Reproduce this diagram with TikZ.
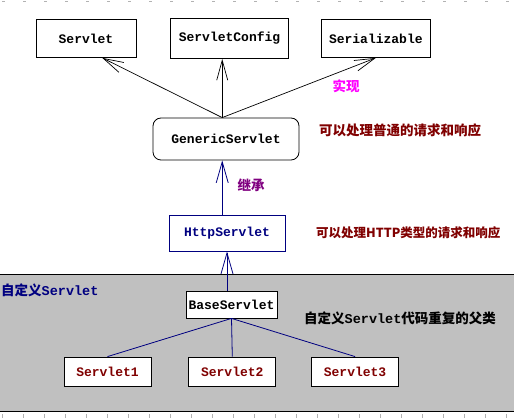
\documentclass[tikz,border=0pt]{standalone}
\usepackage{fontspec}
\setmonofont{Liberation Mono}
\newfontfamily\cjk{Noto Sans CJK SC}
\usetikzlibrary{positioning,arrows.meta}
\usepackage{xcolor}
\definecolor{navyblue}{HTML}{000080}
\definecolor{darkred}{HTML}{800000}
\definecolor{implpink}{HTML}{FF00FF}
\definecolor{inhpurple}{HTML}{800080}
\definecolor{bandgray}{HTML}{C0C0C0}

\begin{document}
\begin{tikzpicture}[x=1pt, y=-1pt, node distance=1cm and 33pt,
    every node/.style={font=\ttfamily\bfseries\fontsize{13}{15}\selectfont},
    box/.style={draw, fill=white, line width=0.8pt, minimum height=38pt, inner xsep=8pt},
    subbox/.style={draw, fill=white, line width=0.8pt, minimum width=87pt, minimum height=29pt, text=darkred},
    note/.style={font=\cjk\bfseries\fontsize{13.5}{15}\selectfont, inner sep=0pt},
    imp/.style={-{Straight Barb[length=20pt,width=11pt]}, line width=0.7pt},
    inh/.style={-{Straight Barb[length=21pt,width=12pt]}, line width=0.8pt, draw=navyblue}]
    \useasboundingbox (0,0) rectangle (514,419);
    % band of own servlets
    \fill[bandgray] (0,274) rectangle (514,411);
    \draw[line width=0.8pt] (0,274) -- (514,274);
    \draw[line width=0.8pt] (0,411) -- (514,411);
    \foreach \x in {2,23,...,506} {
      \draw[gray!60] (\x,414) -- (\x,418);
      \draw[gray!60] (\x,1) -- ({\x+3},1);
    }
    % interfaces
    \node[box, minimum width=100pt] (servlet) at (86,38.5) {Servlet};
    \node[box, minimum height=40pt] (config) [right=34pt of servlet] {ServletConfig};
    \node[box] (serial) [right=32pt of config] {Serializable};
    \node[draw, line width=0.8pt, rounded corners=8pt, minimum width=146pt, minimum height=42pt] (generic) at (226,139) {GenericServlet};
    \node[draw=navyblue, line width=0.8pt, text=navyblue, minimum width=116pt, minimum height=36pt] (http) at (227,233) {HttpServlet};
    % own classes
    \node[draw, fill=white, line width=0.8pt, minimum width=91pt, minimum height=27pt, inner xsep=2pt] (base) at (231.5,304.5) {BaseServlet};
    \node[subbox] (s1) at (107.5,371.5) {Servlet1};
    \node[subbox] (s2) [right=37pt of s1] {Servlet2};
    \node[subbox] (s3) [right=35pt of s2] {Servlet3};
    % notes
    \node[note, text=implpink] (lblimpl) at (346,86) {实现};
    \node[note, text=inhpurple] (lblinh) at (251,185) {继承};
    \node[note, text=darkred, anchor=west] (lblgen) at (319,130) {可以处理普通的请求和响应};
    \node[note, text=darkred, anchor=west, font=\cjk\bfseries\fontsize{12.5}{15}\selectfont] (lblhttp) at (316,233) {可以处理HTTP类型的请求和响应};
    \node[note, text=navyblue, anchor=west] (lblcustom) at (1,290) {自定义{\ttfamily Servlet}};
    \node[note, anchor=west] (lblbase) at (304,318) {自定义{\ttfamily Servlet}代码重复的父类};
    % connectors
    \draw[imp] (generic.100) -- (servlet.310);
    \draw[imp] (generic.100) -- (config.south -| generic.100);
    \draw[imp] (generic.100) -- (serial.south);
    \draw[inh] (http.north -| generic.100) -- (generic.south -| generic.100);
    \draw[inh] (base.north -| http.south) -- (http.south);
    \draw[navyblue, line width=0.8pt] (base.south) -- (s1.north);
    \draw[navyblue, line width=0.8pt] (base.south) -- (s2.north);
    \draw[navyblue, line width=0.8pt] (base.south) -- (s3.north);
  \end{tikzpicture}
\end{document}
